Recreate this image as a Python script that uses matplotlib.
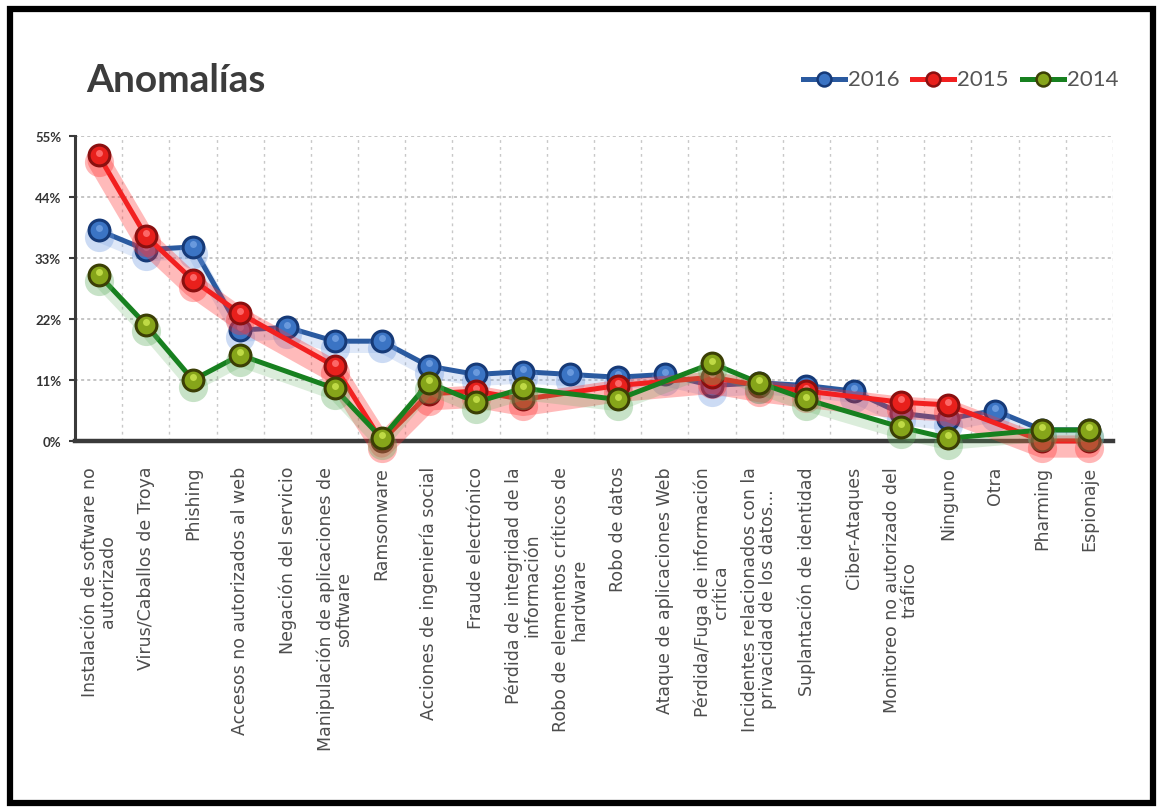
import numpy as np
import matplotlib
matplotlib.use("Agg")
import matplotlib.pyplot as plt
from matplotlib.patches import Rectangle

categories = [
    "Instalación de software no\nautorizado",
    "Virus/Caballos de Troya",
    "Phishing",
    "Accesos no autorizados al web",
    "Negación del servicio",
    "Manipulación de aplicaciones de\nsoftware",
    "Ramsonware",
    "Acciones de ingeniería social",
    "Fraude electrónico",
    "Pérdida de integridad de la\ninformación",
    "Robo de elementos críticos de\nhardware",
    "Robo de datos",
    "Ataque de aplicaciones Web",
    "Pérdida/Fuga de información\ncrítica",
    "Incidentes relacionados con la\nprivacidad de los datos...",
    "Suplantación de identidad",
    "Ciber-Ataques",
    "Monitoreo no autorizado del\ntráfico",
    "Ninguno",
    "Otra",
    "Pharming",
    "Espionaje",
]

nan = np.nan
values_2016 = [38, 34.5, 35, 20, 20.5, 18, 18, 13.5, 12, 12.5, 12, 11.5, 12, 10, 10.5, 10, 9, 5, 4, 5.5, 2, 2]
values_2015 = [51.5, 37, 29, 23, nan, 13.5, 0, 8.5, 9, 7.5, nan, 10, nan, 11.5, 10, 9, nan, 7, 6.5, nan, 0, 0]
values_2014 = [30, 21, 11, 15.5, nan, 9.5, 0.5, 10.5, 7, 9.5, nan, 7.5, nan, 14, 10.5, 7.5, nan, 2.5, 0.5, nan, 2, 2]

y_ticks = [0, 11, 22, 33, 44, 55]
y_tick_labels = ["0%", "11%", "22%", "33%", "44%", "55%"]

W, H = 1158, 812
fig = plt.figure(figsize=(W / 100, H / 100), dpi=100)
fig.patch.set_facecolor("white")

ax = fig.add_axes([75 / W, 1 - 442 / H, (1113 - 75) / W, (442 - 137) / H])
ax.set_facecolor("white")

x = np.arange(len(categories))
ax.set_xlim(-0.5, len(categories) - 0.5)
ax.set_ylim(0, 55)

# dotted grid: horizontal at the y ticks, vertical between categories
for yv in y_ticks[1:]:
    ax.axhline(yv, color="#b5b5b5", lw=1.1, ls=(0, (2, 2)), zorder=0)
for k in range(len(categories)):
    ax.axvline(k + 0.5, color="#c8c8c8", lw=1.0, ls=(0, (2, 3)), zorder=0)

series = [
    ("2016", values_2016, "#2a5aa0", "#3b74c4", "#163a78", "#6f9ee0", "#6f9ae0"),
    ("2015", values_2015, "#f22020", "#e8201c", "#8a1010", "#ff7070", "#ff3030"),
    ("2014", values_2014, "#17801f", "#86a51a", "#3b3f05", "#c6e04a", "#5fae5f"),
]

z = 3
for name, vals, line_c, mark_c, edge_c, hi_c, glow_c in series:
    v = np.array(vals, dtype=float)
    ok = ~np.isnan(v)
    xs, ys = x[ok], v[ok]
    # soft glow under the line
    glow_w = 16 if name == "2015" else 9
    glow_a = 0.33 if name == "2015" else 0.22
    ax.plot(xs, ys - 1.0, color=glow_c, lw=glow_w, alpha=glow_a,
            solid_capstyle="round", solid_joinstyle="round", zorder=z, clip_on=False)
    ax.plot(xs, ys, color=line_c, lw=3.6, solid_joinstyle="round", zorder=z + 0.1, clip_on=False)
    ax.plot(xs, ys - 1.2, ls="none", marker="o", ms=21, color=glow_c, alpha=0.35,
            mec="none", zorder=z + 0.15, clip_on=False)
    ax.plot(xs, ys, ls="none", marker="o", ms=15, mfc=mark_c, mec=edge_c, mew=2.2,
            zorder=z + 0.2, clip_on=False)
    ax.plot(xs, ys + 0.5, ls="none", marker="o", ms=5, mfc=hi_c, mec="none",
            alpha=0.9, zorder=z + 0.3, clip_on=False)
    z += 1

# axes styling
for s in ["top", "right"]:
    ax.spines[s].set_visible(False)
ax.spines["left"].set_color("#3a3a3a")
ax.spines["left"].set_linewidth(2.2)
ax.spines["bottom"].set_color("#3a3a3a")
ax.spines["bottom"].set_linewidth(3.2)
ax.spines["bottom"].set_zorder(2)

ax.set_yticks(y_ticks)
ax.set_yticklabels(y_tick_labels, fontsize=9.5, fontweight="bold", color="#333333",
                   family=["Lato", "DejaVu Sans"])
ax.tick_params(axis="y", direction="out", length=4, width=1.5, color="#3a3a3a", pad=6)

ax.set_xticks(x)
ax.set_xticklabels(categories, rotation=90, ha="center", va="top", multialignment="center",
                   fontsize=12.5, color="#4d4d4d", family=["DejaVu Sans"],
                   linespacing=1.0)
ax.tick_params(axis="x", length=0, pad=18)

# title
fig.text(86 / W, 1 - 80 / H, "Anomalías", fontsize=28, fontweight="bold", color="#3c3c3c",
         va="center", ha="left", family=["Lato", "DejaVu Sans"])

# legend drawn as line + marker + label in figure pixels
leg_y = 1 - 80 / H
leg_items = [
    (803, "2016", series[0]),
    (912, "2015", series[1]),
    (1022, "2014", series[2]),
]
for x0, lab, (_, _, line_c, mark_c, edge_c, hi_c, glow_c) in leg_items:
    fig.add_artist(plt.Line2D([x0 / W, (x0 + 42) / W], [leg_y, leg_y], color=line_c, lw=3.6,
                              transform=fig.transFigure))
    fig.add_artist(plt.Line2D([(x0 + 21) / W], [leg_y], ls="none", marker="o", ms=10,
                              mfc=mark_c, mec=edge_c, mew=1.8, transform=fig.transFigure))
    fig.text((x0 + 45) / W, leg_y, lab, fontsize=16, color="#555555", va="center", ha="left",
             family=["Lato", "DejaVu Sans"])

# black frame around the whole picture
fig.add_artist(Rectangle((10 / W, 8 / H), (1153 - 10) / W, (802 - 8) / H, fill=False,
                         ec="black", lw=4.5, transform=fig.transFigure))

fig.savefig("out.png", dpi=100, facecolor="white")
